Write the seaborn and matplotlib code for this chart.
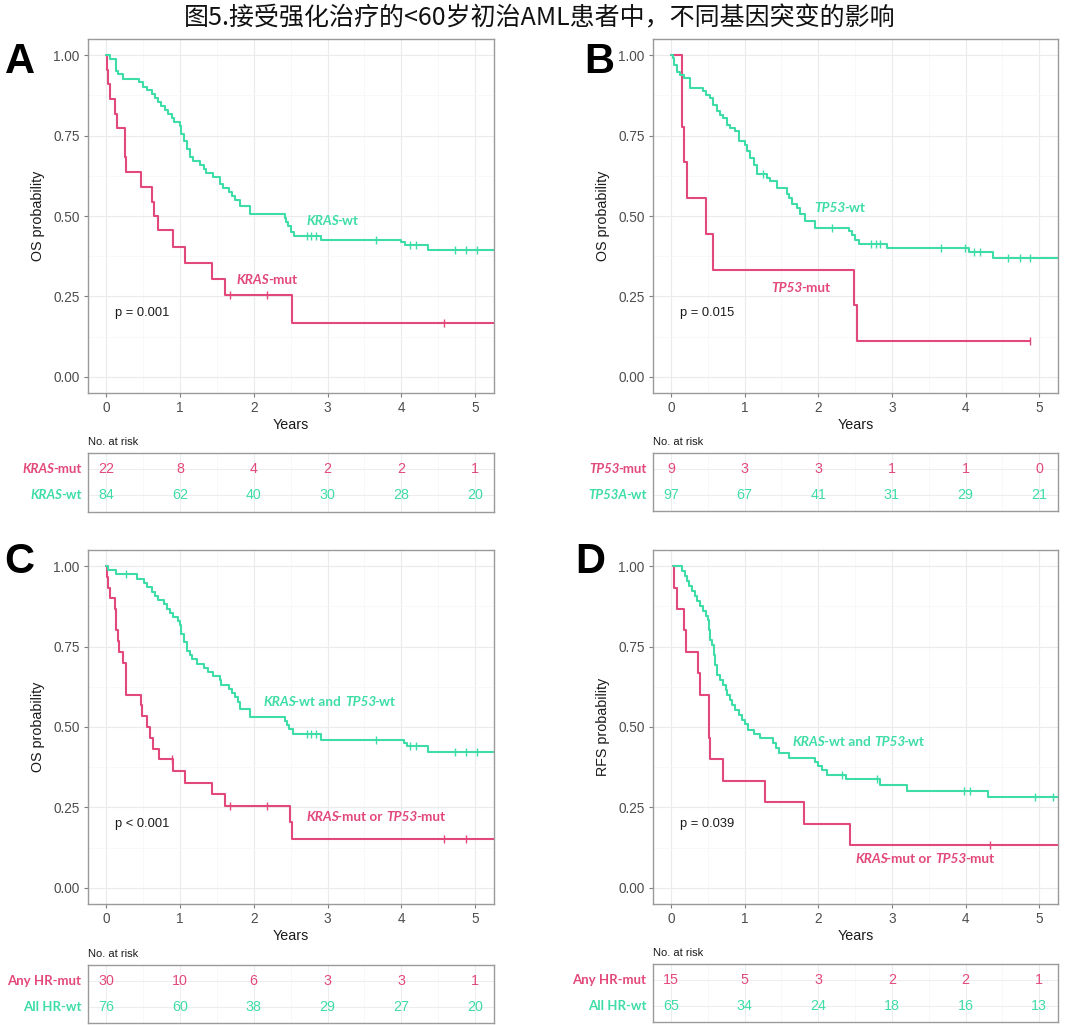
import numpy as np
import pandas as pd
import matplotlib
matplotlib.use("Agg")
import matplotlib.pyplot as plt
import seaborn as sns

# ---------------- data ----------------
TITLE = "图5.接受强化治疗的<60岁初治AML患者中，不同基因突变的影响"
RED = "#E2497A"
GREEN = "#3FDDA6"
YEAR_TICKS = [0, 1, 2, 3, 4, 5]

# Panel A (OS, KRAS)
A_mut_t = [0, 0.01, 0.03, 0.05, 0.12, 0.15, 0.26, 0.27, 0.47, 0.62, 0.65, 0.71, 0.90, 1.07, 1.43, 1.61, 2.52]
A_mut_s = [1.0, 0.955, 0.909, 0.864, 0.818, 0.773, 0.682, 0.636, 0.591, 0.545, 0.500, 0.455, 0.404, 0.354, 0.303, 0.253, 0.168]
A_mut_cens = [1.68, 2.18, 4.58]
A_mut_end = 5.4
A_wt_t = [0, 0.05, 0.14, 0.16, 0.23, 0.44, 0.50, 0.55, 0.62, 0.66, 0.71, 0.75, 0.80, 0.84, 0.89, 0.92, 1.00, 1.02,
          1.05, 1.09, 1.13, 1.18, 1.27, 1.32, 1.36, 1.45, 1.54, 1.58, 1.66, 1.70, 1.75, 1.81, 1.95, 2.42, 2.44, 2.47,
          2.51, 2.54, 2.91, 4.00, 4.05, 4.36]
A_wt_s = [1.0, 0.988, 0.952, 0.940, 0.927, 0.915, 0.902, 0.890, 0.878, 0.866, 0.854, 0.842, 0.829, 0.817, 0.805,
          0.793, 0.780, 0.756, 0.732, 0.707, 0.683, 0.671, 0.659, 0.647, 0.634, 0.622, 0.598, 0.586, 0.574, 0.562,
          0.549, 0.530, 0.506, 0.494, 0.482, 0.470, 0.451, 0.439, 0.426, 0.418, 0.410, 0.393]
A_wt_cens = [2.72, 2.78, 2.85, 3.66, 4.12, 4.20, 4.72, 4.88, 5.02]
A_wt_end = 5.4
A_risk_mut = [22, 8, 4, 2, 2, 1]
A_risk_wt = [84, 62, 40, 30, 28, 20]

# Panel B (OS, TP53)
B_mut_t = [0, 0.15, 0.17, 0.22, 0.47, 0.57, 2.49, 2.52]
B_mut_s = [1.0, 0.778, 0.667, 0.556, 0.444, 0.333, 0.222, 0.111]
B_mut_cens = [4.88]
B_mut_end = 4.88
B_wt_t = [0, 0.02, 0.04, 0.08, 0.12, 0.17, 0.26, 0.44, 0.48, 0.53, 0.57, 0.62, 0.66, 0.71, 0.76, 0.80, 0.87, 0.92,
          1.00, 1.03, 1.07, 1.12, 1.17, 1.30, 1.35, 1.44, 1.57, 1.60, 1.64, 1.71, 1.75, 1.82, 1.96, 2.41, 2.46, 2.50,
          2.55, 2.93, 4.04, 4.37]
B_wt_s = [1.0, 0.990, 0.969, 0.948, 0.938, 0.928, 0.897, 0.887, 0.876, 0.866, 0.845, 0.825, 0.814, 0.804, 0.784,
          0.773, 0.763, 0.732, 0.722, 0.701, 0.680, 0.660, 0.629, 0.619, 0.608, 0.588, 0.567, 0.557, 0.536, 0.526,
          0.505, 0.485, 0.464, 0.454, 0.440, 0.425, 0.412, 0.400, 0.388, 0.371]
B_wt_cens = [1.25, 2.19, 2.71, 2.78, 2.84, 3.66, 3.99, 4.11, 4.20, 4.58, 4.74, 4.88]
B_wt_end = 5.4
B_risk_mut = [9, 3, 3, 1, 1, 0]
B_risk_wt = [97, 67, 41, 31, 29, 21]

# Panel C (OS, any high-risk mutation)
C_mut_t = [0, 0.01, 0.02, 0.05, 0.12, 0.14, 0.16, 0.17, 0.23, 0.27, 0.47, 0.49, 0.56, 0.60, 0.64, 0.72, 0.90, 1.07,
           1.43, 1.61, 2.49, 2.52]
C_mut_s = [1.0, 0.967, 0.933, 0.900, 0.867, 0.800, 0.767, 0.733, 0.700, 0.600, 0.567, 0.533, 0.500, 0.467, 0.433,
           0.400, 0.364, 0.327, 0.291, 0.255, 0.204, 0.153]
C_mut_cens = [0.89, 1.68, 2.18, 4.58, 4.87]
C_mut_end = 5.4
C_wt_t = [0, 0.03, 0.14, 0.42, 0.51, 0.55, 0.62, 0.66, 0.71, 0.78, 0.82, 0.87, 0.90, 0.98, 1.00, 1.02, 1.05, 1.09,
          1.13, 1.16, 1.23, 1.32, 1.38, 1.45, 1.54, 1.56, 1.66, 1.70, 1.75, 1.79, 1.81, 1.95, 2.42, 2.45, 2.48, 2.53,
          2.91, 4.03, 4.07, 4.36]
C_wt_s = [1.0, 0.987, 0.974, 0.961, 0.947, 0.934, 0.921, 0.908, 0.895, 0.882, 0.868, 0.855, 0.842, 0.829, 0.816,
          0.789, 0.763, 0.737, 0.724, 0.711, 0.697, 0.684, 0.671, 0.658, 0.645, 0.632, 0.618, 0.605, 0.592, 0.579,
          0.556, 0.532, 0.519, 0.506, 0.493, 0.477, 0.460, 0.451, 0.442, 0.421]
C_wt_cens = [0.27, 2.72, 2.78, 2.85, 3.66, 4.12, 4.20, 4.72, 4.88, 5.02]
C_wt_end = 5.4
C_risk_mut = [30, 10, 6, 3, 3, 1]
C_risk_wt = [76, 60, 38, 29, 27, 20]

# Panel D (RFS, any high-risk mutation)
D_mut_t = [0.02, 0.04, 0.08, 0.18, 0.20, 0.37, 0.40, 0.51, 0.52, 0.53, 0.70, 1.28, 1.81, 2.43]
D_mut_s = [1.0, 0.933, 0.867, 0.800, 0.733, 0.667, 0.600, 0.533, 0.467, 0.400, 0.333, 0.267, 0.200, 0.133]
D_mut_cens = [4.33]
D_mut_end = 5.4
D_wt_t = [0.02, 0.15, 0.19, 0.22, 0.25, 0.29, 0.32, 0.35, 0.39, 0.44, 0.48, 0.50, 0.51, 0.53, 0.55, 0.58, 0.60,
          0.62, 0.66, 0.71, 0.74, 0.76, 0.80, 0.83, 0.87, 0.92, 0.96, 1.00, 1.05, 1.12, 1.21, 1.39, 1.43, 1.47, 1.60,
          1.96, 2.00, 2.05, 2.12, 2.38, 2.84, 3.20, 4.31]
D_wt_s = [1.0, 0.985, 0.969, 0.954, 0.938, 0.923, 0.908, 0.892, 0.877, 0.862, 0.846, 0.831, 0.800, 0.769, 0.754,
          0.723, 0.692, 0.662, 0.646, 0.631, 0.615, 0.600, 0.585, 0.569, 0.554, 0.538, 0.523, 0.508, 0.492, 0.477,
          0.465, 0.450, 0.435, 0.420, 0.405, 0.390, 0.378, 0.365, 0.352, 0.337, 0.321, 0.302, 0.283]
D_wt_cens = [2.32, 2.80, 3.98, 4.06, 4.94, 5.19]
D_wt_end = 5.4
D_risk_mut = [15, 5, 3, 2, 2, 1]
D_risk_wt = [65, 34, 24, 18, 16, 13]

# ---------------- style ----------------
sns.set_theme(style="white")
plt.rcParams["font.family"] = ["Liberation Sans", "DejaVu Sans"]
LBL_FONT = ["Lato", "DejaVu Sans"]
ITAL_KERN = 1.2  # pt pulled in after an italic piece

W, H = 1080, 1025
fig = plt.figure(figsize=(W / 100, H / 100), dpi=100)
fig.patch.set_facecolor("white")


def rect(l, t, r, b):
    return [l / W, 1 - b / H, (r - l) / W, (b - t) / H]


def surv_at(t, times, surv):
    idx = np.searchsorted(times, t, side="right") - 1
    return surv[max(idx, 0)]


def draw_curve(ax, times, surv, cens, end, color):
    tt = list(times) + [end]
    ss = list(surv) + [surv[-1]]
    df = pd.DataFrame({"t": tt, "s": ss})
    sns.lineplot(data=df, x="t", y="s", ax=ax, drawstyle="steps-post", estimator=None,
                 sort=False, color=color, lw=1.5, clip_on=True)
    cdf = pd.DataFrame({"t": cens, "s": [surv_at(c, times, surv) for c in cens]})
    sns.scatterplot(data=cdf, x="t", y="s", ax=ax, marker="|", s=28, linewidth=1.0,
                    color=color, clip_on=True, zorder=4)


def mixed_text(ax, x, y, parts, color, fontsize, ha="left", transform=None, gap=2.6):
    """parts: list of (text, italic, space_before)."""
    if transform is None:
        transform = ax.transData
    seq = parts if ha == "left" else parts[::-1]
    prev = None
    prev_space = False
    prev_ital = False
    for txt, ital, sp in seq:
        style = "italic" if ital else "normal"
        if prev is None:
            prev = ax.text(x, y, txt, transform=transform, ha=ha, va="center", color=color,
                           fontsize=fontsize, fontweight="bold", fontstyle=style, family=LBL_FONT)
        else:
            if ha == "left":
                off = (gap if sp else 0) - (ITAL_KERN if prev_ital else 0)
                prev = ax.annotate(txt, xy=(1, 0), xycoords=prev, xytext=(off, 0),
                                   textcoords="offset points", ha="left", va="bottom",
                                   color=color, fontsize=fontsize, fontweight="bold",
                                   fontstyle=style, family=LBL_FONT)
            else:
                off = -(gap if prev_space else 0) + (ITAL_KERN if ital else 0)
                prev = ax.annotate(txt, xy=(0, 0), xycoords=prev, xytext=(off, 0),
                                   textcoords="offset points", ha="right", va="bottom",
                                   color=color, fontsize=fontsize, fontweight="bold",
                                   fontstyle=style, family=LBL_FONT)
        prev_space = sp
        prev_ital = ital


def style_km(ax, ylabel):
    ax.set_xlim(-0.245, 5.255)
    ax.set_ylim(-0.05, 1.05)
    ax.set_xticks(YEAR_TICKS)
    ax.set_xticklabels([str(v) for v in YEAR_TICKS])
    ax.set_yticks([0, 0.25, 0.5, 0.75, 1.0])
    ax.set_yticklabels(["0.00", "0.25", "0.50", "0.75", "1.00"])
    ax.set_xticks(np.arange(0.5, 5.5, 1), minor=True)
    ax.set_yticks([0.125, 0.375, 0.625, 0.875], minor=True)
    ax.grid(which="major", color="#ebebeb", lw=0.8)
    ax.grid(which="minor", color="#f5f5f5", lw=0.5)
    ax.set_axisbelow(True)
    for sp in ax.spines.values():
        sp.set_color("#9a9a9a")
        sp.set_linewidth(1.0)
    ax.tick_params(which="major", axis="both", length=3, width=0.8, color="#7f7f7f",
                   labelsize=9.8, labelcolor="#4d4d4d", pad=3, bottom=True, left=True)
    ax.tick_params(which="minor", length=0)
    ax.set_xlabel("Years", fontsize=10.3, color="#1a1a1a", labelpad=2)
    ax.set_ylabel(ylabel, fontsize=10.3, color="#1a1a1a", labelpad=6)


def risk_table(ax, mut, wt, lab_mut, lab_wt):
    ax.set_xlim(-0.245, 5.255)
    ax.set_ylim(0, 1)
    ax.set_xticks(YEAR_TICKS)
    ax.set_xticks(np.arange(0.5, 5.5, 1), minor=True)
    ax.set_yticks([0.28, 0.73])
    ax.grid(which="major", color="#ededed", lw=0.7)
    ax.grid(which="minor", color="#f6f6f6", lw=0.5)
    ax.set_axisbelow(True)
    ax.tick_params(which="both", length=0, labelbottom=False, labelleft=False)
    ax.set_xlabel("")
    ax.set_ylabel("")
    for sp in ax.spines.values():
        sp.set_color("#9a9a9a")
        sp.set_linewidth(1.0)
    for x, m, w in zip(YEAR_TICKS, mut, wt):
        ax.text(x, 0.73, str(m), ha="center", va="center", color=RED, fontsize=10.3)
        ax.text(x, 0.28, str(w), ha="center", va="center", color=GREEN, fontsize=10.3)
    tr = ax.get_yaxis_transform()
    mixed_text(ax, -0.016, 0.73, lab_mut, RED, 9.5, ha="right", transform=tr)
    mixed_text(ax, -0.016, 0.28, lab_wt, GREEN, 9.5, ha="right", transform=tr)
    ax.text(0.0, 1.19, "No. at risk", transform=ax.transAxes, ha="left", va="center",
            fontsize=8, color="#1a1a1a")


# ---------------- panels ----------------
panels = [
    dict(km=(88, 39, 494, 393), rk=(88, 453, 494, 512), ylabel="OS probability",
         mut=(A_mut_t, A_mut_s, A_mut_cens, A_mut_end), wt=(A_wt_t, A_wt_s, A_wt_cens, A_wt_end),
         risk=(A_risk_mut, A_risk_wt), pval="p = 0.001",
         wt_lab=[("KRAS", True, False), ("-wt", False, False)], wt_pos=(2.71, 0.486),
         mut_lab=[("KRAS", True, False), ("-mut", False, False)], mut_pos=(1.77, 0.30),
         rk_mut=[("KRAS", True, False), ("-mut", False, False)],
         rk_wt=[("KRAS", True, False), ("-wt", False, False)],
         letter="A", lpos=(5, 73)),
    dict(km=(653, 39, 1058, 393), rk=(653, 453, 1058, 511), ylabel="OS probability",
         mut=(B_mut_t, B_mut_s, B_mut_cens, B_mut_end), wt=(B_wt_t, B_wt_s, B_wt_cens, B_wt_end),
         risk=(B_risk_mut, B_risk_wt), pval="p = 0.015",
         wt_lab=[("TP53", True, False), ("-wt", False, False)], wt_pos=(1.95, 0.526),
         mut_lab=[("TP53", True, False), ("-mut", False, False)], mut_pos=(1.36, 0.276),
         rk_mut=[("TP53", True, False), ("-mut", False, False)],
         rk_wt=[("TP53A", True, False), ("-wt", False, False)],
         letter="B", lpos=(584, 73)),
    dict(km=(88, 550, 494, 904), rk=(88, 965, 494, 1023), ylabel="OS probability",
         mut=(C_mut_t, C_mut_s, C_mut_cens, C_mut_end), wt=(C_wt_t, C_wt_s, C_wt_cens, C_wt_end),
         risk=(C_risk_mut, C_risk_wt), pval="p < 0.001",
         wt_lab=[("KRAS", True, False), ("-wt and", False, False), ("TP53", True, True), ("-wt", False, False)],
         wt_pos=(2.13, 0.578),
         mut_lab=[("KRAS", True, False), ("-mut or", False, False), ("TP53", True, True), ("-mut", False, False)],
         mut_pos=(2.71, 0.22),
         rk_mut=[("Any HR-mut", False, False)], rk_wt=[("All HR-wt", False, False)],
         letter="C", lpos=(4, 573)),
    dict(km=(653, 550, 1058, 904), rk=(653, 964, 1058, 1022), ylabel="RFS probability",
         mut=(D_mut_t, D_mut_s, D_mut_cens, D_mut_end), wt=(D_wt_t, D_wt_s, D_wt_cens, D_wt_end),
         risk=(D_risk_mut, D_risk_wt), pval="p = 0.039",
         wt_lab=[("KRAS", True, False), ("-wt and", False, False), ("TP53", True, True), ("-wt", False, False)],
         wt_pos=(1.65, 0.453),
         mut_lab=[("KRAS", True, False), ("-mut or", False, False), ("TP53", True, True), ("-mut", False, False)],
         mut_pos=(2.50, 0.09),
         rk_mut=[("Any HR-mut", False, False)], rk_wt=[("All HR-wt", False, False)],
         letter="D", lpos=(575, 573)),
]

for p in panels:
    ax = fig.add_axes(rect(*p["km"]))
    draw_curve(ax, *p["mut"], RED)
    draw_curve(ax, *p["wt"], GREEN)
    style_km(ax, p["ylabel"])
    ax.text(0.12, 0.198, p["pval"], ha="left", va="center", fontsize=9.3, color="#1a1a1a")
    mixed_text(ax, p["wt_pos"][0], p["wt_pos"][1], p["wt_lab"], GREEN, 9.8)
    mixed_text(ax, p["mut_pos"][0], p["mut_pos"][1], p["mut_lab"], RED, 9.8)

    axr = fig.add_axes(rect(*p["rk"]))
    risk_table(axr, p["risk"][0], p["risk"][1], p["rk_mut"], p["rk_wt"])

    fig.text(p["lpos"][0] / W, 1 - p["lpos"][1] / H, p["letter"], ha="left", va="baseline",
             fontsize=30, fontweight="bold", color="black")

fig.text(0.5, 1 - 18 / H, TITLE, ha="center", va="center", fontsize=18,
         family=["Noto Sans CJK SC", "DejaVu Sans"], color="#111111")

fig.savefig("out.png", dpi=100, facecolor="white")
